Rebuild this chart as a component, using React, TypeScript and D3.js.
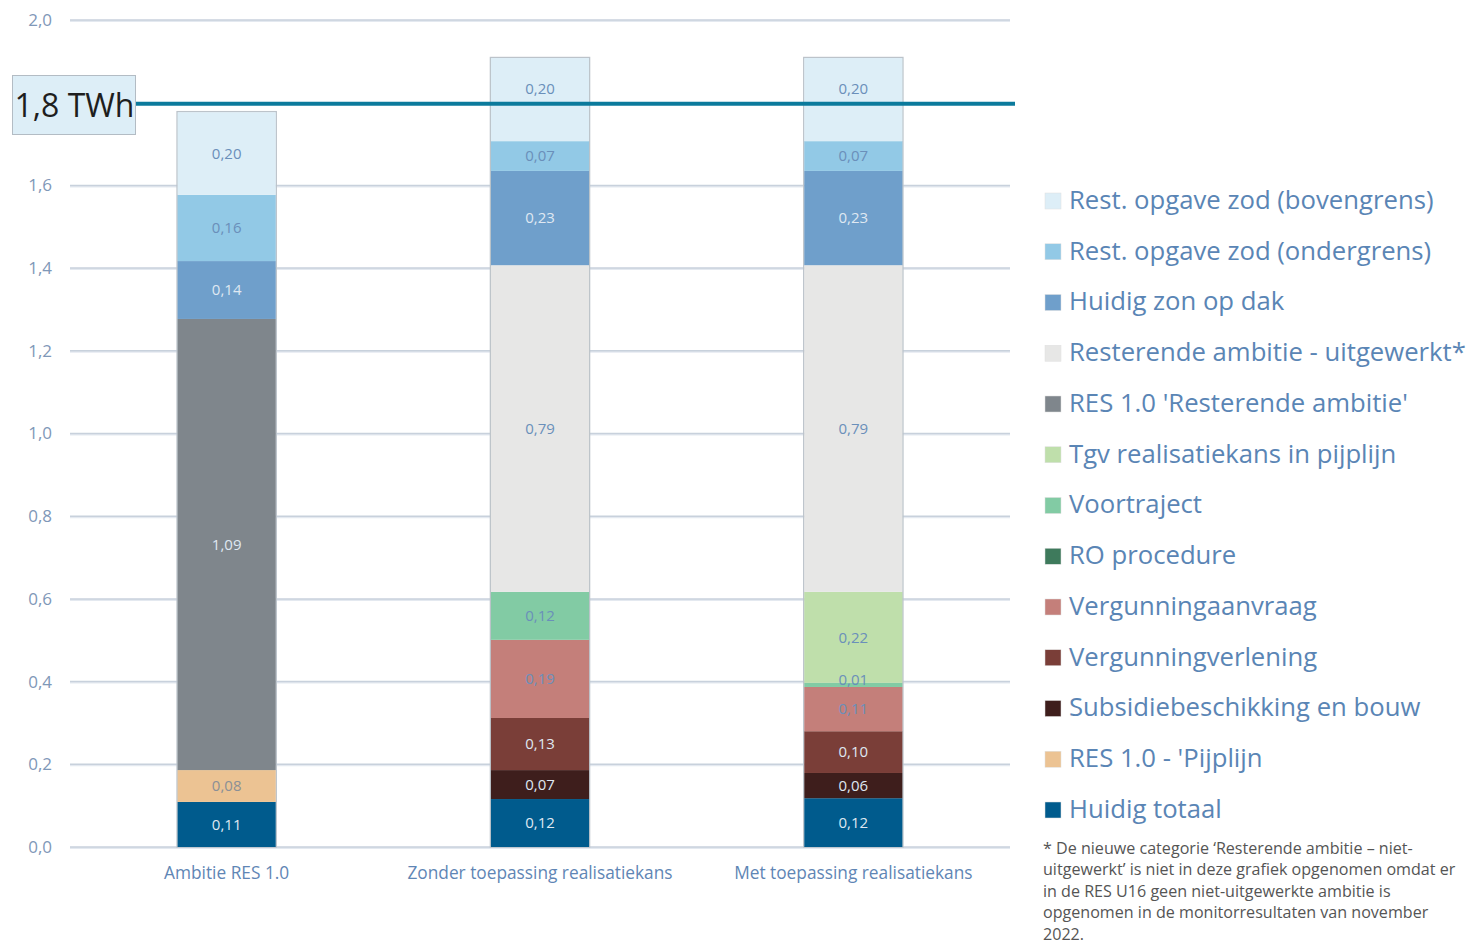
import * as d3 from "d3";

const categories = ["Ambitie RES 1.0", "Zonder toepassing realisatiekans", "Met toepassing realisatiekans"];

// bottom to top
const seriesNames = [
  "Huidig totaal",
  "RES 1.0 - 'Pijplijn",
  "Subsidiebeschikking en bouw",
  "Vergunningverlening",
  "Vergunningaanvraag",
  "RO procedure",
  "Voortraject",
  "Tgv realisatiekans in pijplijn",
  "RES 1.0 'Resterende ambitie'",
  "Resterende ambitie - uitgewerkt*",
  "Huidig zon op dak",
  "Rest. opgave zod (ondergrens)",
  "Rest. opgave zod (bovengrens)",
];

const seriesColors = [
  "#005b8d", "#ecc393", "#3e1e1c", "#7a3e38", "#c47f7a", "#3e7a5c", "#82cba4",
  "#bfdfab", "#7f868c", "#e7e7e6", "#6f9fcb", "#92c9e6", "#ddeef7",
];

const labelColors = [
  "#dfe8f2", "#8a8f96", "#dfe8f2", "#dfe8f2", "#6a8fba", "#dfe8f2", "#6a8fba",
  "#6a8fba", "#dfe8f2", "#6a8fba", "#dfe8f2", "#6a8fba", "#6a8fba",
];

const seriesValues = [
  [0.109, 0.116, 0.118],
  [0.077, 0, 0],
  [0, 0.07, 0.061],
  [0, 0.126, 0.101],
  [0, 0.189, 0.107],
  [0, 0, 0],
  [0, 0.116, 0.01],
  [0, 0, 0.22],
  [1.091, 0, 0],
  [0, 0.79, 0.79],
  [0.14, 0.228, 0.228],
  [0.16, 0.072, 0.072],
  [0.2, 0.201, 0.201],
];

const yTicks = [0, 0.2, 0.4, 0.6, 0.8, 1.0, 1.2, 1.4, 1.6, 1.8, 2.0];
const targetValue = 1.8;
const targetLabel = "1,8 TWh";

const footnote = [
  "* De nieuwe categorie \u2018Resterende ambitie \u2013 niet-",
  "uitgewerkt\u2019 is niet in deze grafiek opgenomen omdat er",
  "in de RES U16 geen niet-uitgewerkte ambitie is",
  "opgenomen in de monitorresultaten van november",
  "2022.",
];

const W = 1474;
const H = 944;
const font = "'Open Sans', 'Noto Sans', sans-serif";

const fmt = (v: number) => v.toFixed(2).replace(".", ",");

export default function App() {
  const y = d3.scaleLinear().domain([0, 2]).range([847, 20]);
  const x = d3.scaleBand<string>().domain(categories).range([70, 1010]).paddingInner(0.687).paddingOuter(0.3435);

  const rows = categories.map((c, ci) => {
    const r: Record<string, number | string> = { cat: c };
    seriesNames.forEach((s, si) => (r[s] = seriesValues[si][ci]));
    return r;
  });
  const stacked = d3.stack<Record<string, number | string>>().keys(seriesNames)(rows as any);

  const legendY = d3.scalePoint<string>().domain([...seriesNames].reverse()).range([200, 809]);
  const targetY = y(targetValue) + 1;

  return (
    <div style={{ position: "absolute", left: 0, top: 0 }}>
      <svg width={W} height={H} style={{ display: "block", fontFamily: font }}>
        <rect width={W} height={H} fill="#fff" />
        {yTicks.map((t) => (
          <g key={t}>
            <line x1={70} x2={1010} y1={y(t) + 1} y2={y(t) + 1} stroke="#e4e9f0" strokeWidth={2} />
            <line x1={70} x2={1010} y1={y(t)} y2={y(t)} stroke="#c8d1dc" strokeWidth={1.5} />
            {t !== targetValue && (
              <text x={52} y={y(t)} dy="0.35em" textAnchor="end" fontSize={17} fill="#7f98b8">
                {t.toFixed(1).replace(".", ",")}
              </text>
            )}
          </g>
        ))}

        {categories.map((c, ci) => {
          const top = stacked[stacked.length - 1][ci][1];
          return (
            <rect key={c} x={x(c)! - 0.5} y={y(top) - 0.5} width={x.bandwidth() + 1} height={y(0) - y(top) + 0.5}
              fill="none" stroke="#bcc3ca" strokeWidth={1.5} />
          );
        })}

        {stacked.map((layer, si) => (
          <g key={seriesNames[si]}>
            {layer.map((d, ci) => {
              const v = d[1] - d[0];
              if (v <= 0) return null;
              const cat = categories[ci];
              return (
                <rect key={cat} x={x(cat)} y={y(d[1])} width={x.bandwidth()} height={y(d[0]) - y(d[1])} fill={seriesColors[si]} />
              );
            })}
          </g>
        ))}

        {stacked.map((layer, si) => (
          <g key={"l" + seriesNames[si]}>
            {layer.map((d, ci) => {
              const v = d[1] - d[0];
              if (v <= 0) return null;
              const cat = categories[ci];
              let ly = (y(d[0]) + y(d[1])) / 2 - (v < 0.03 ? 5 : 0);
              if (Math.abs(ly - targetY) < 12) ly = targetY - 15;
              return (
                <text key={cat} x={x(cat)! + x.bandwidth() / 2} y={ly}
                  dy="0.35em" textAnchor="middle" fontSize={15} fill={labelColors[si]}>
                  {fmt(v)}
                </text>
              );
            })}
          </g>
        ))}

        <line x1={136} x2={1015} y1={targetY} y2={targetY} stroke="#0b7a9c" strokeWidth={4} />
        <rect x={12.5} y={75.5} width={123} height={59} fill="#ddeef7" stroke="#b3bcc4" strokeWidth={1} />
        <text x={74.5} y={105} dy="0.36em" textAnchor="middle" fontSize={32} fill="#1e1e1e">{targetLabel}</text>

        {categories.map((c) => (
          <text key={c} x={x(c)! + x.bandwidth() / 2} y={873} dy="0.35em" textAnchor="middle" fontSize={17.3} fill="#5f86b5">
            {c}
          </text>
        ))}

        {[...seriesNames].reverse().map((s) => {
          const si = seriesNames.indexOf(s);
          const ly = legendY(s)!;
          return (
            <g key={s}>
              <rect x={1045} y={ly - 7} width={16} height={16} fill={seriesColors[si]} stroke="#e0e0e0" strokeWidth={0.5} />
              <text x={1069} y={ly} dy="0.35em" fontSize={25.7} fill="#5a85b5">{s}</text>
            </g>
          );
        })}

        {footnote.map((l, i) => (
          <text key={i} x={1043} y={848 + i * 21.5} dy="0.35em" fontSize={16.1} fill="#555">{l}</text>
        ))}
      </svg>
    </div>
  );
}
